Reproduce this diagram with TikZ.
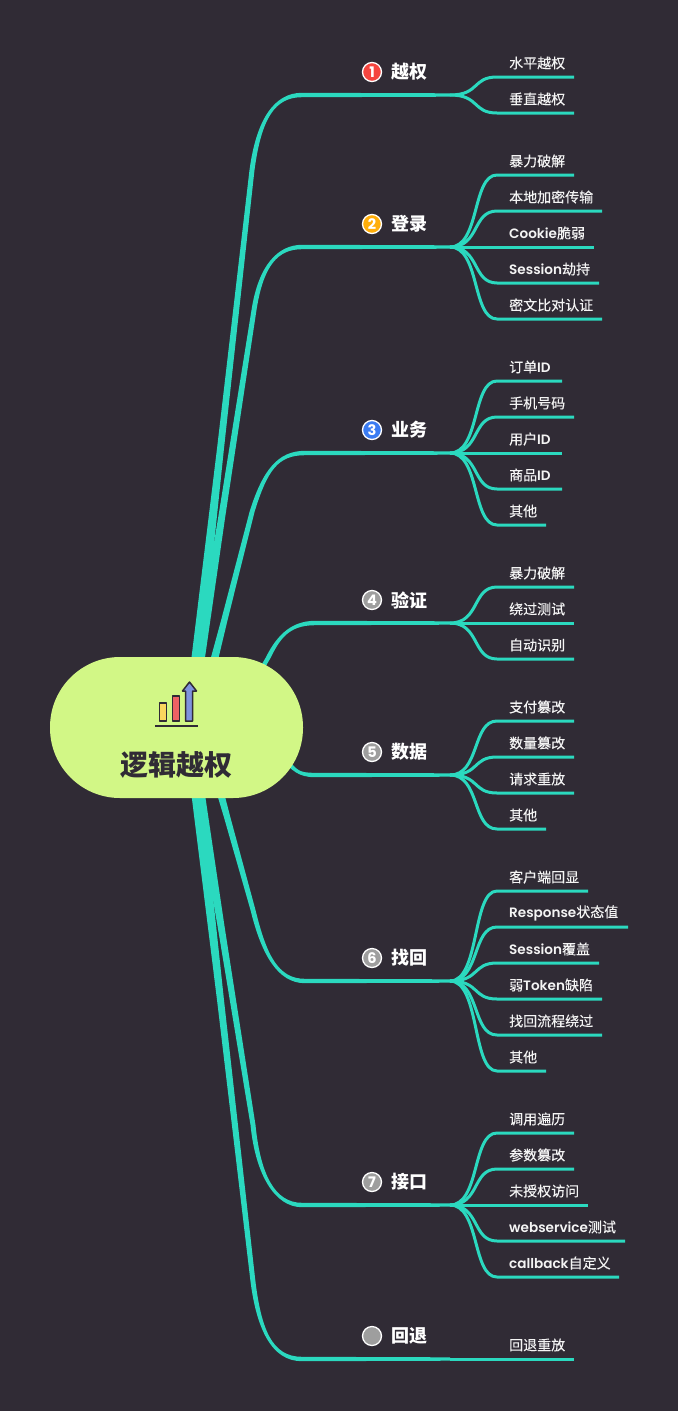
\documentclass[tikz,border=0pt]{standalone}
\usepackage{fontspec}
\usetikzlibrary{calc}
\setmainfont{Noto Sans CJK SC}
\newfontfamily\leaffont[FakeBold=0.25]{Noto Sans CJK SC}
\newfontfamily\lat{Poppins}[Scale=0.97,UprightFont=* SemiBold,BoldFont=* Bold]
\definecolor{bgc}{HTML}{302B35}
\definecolor{tealc}{HTML}{2BD9BF}
\definecolor{rootc}{HTML}{D2F786}
\definecolor{leaftxt}{HTML}{F4F4F4}
\definecolor{bred}{HTML}{F5453F}
\definecolor{borange}{HTML}{FFAE0A}
\definecolor{bblue}{HTML}{3B7CF2}
\definecolor{bgray}{HTML}{9E9E9E}
\definecolor{iconY}{HTML}{FBD65E}
\definecolor{iconR}{HTML}{EE6364}
\definecolor{iconB}{HTML}{7E93DD}
\tikzset{
  leafline/.style={draw=tealc,line width=3pt},
  leaftext/.style={anchor=west,inner sep=0pt,text=leaftxt,font=\fontsize{14}{14}\selectfont\leaffont},
  topictext/.style={anchor=west,inner sep=0pt,text=white,font=\fontsize{18}{18}\selectfont\bfseries},
  badge/.style={circle,draw=white,line width=1.3pt,minimum size=19pt,inner sep=0pt,text=white,font=\fontsize{15}{15}\selectfont\lat\bfseries},
  iconbar/.style={draw=bgc,line width=1.5pt,line join=round},
}
% #1 hub #2 root offset #3 P #4 c1 #5 c2 #6 bend #7 sign #8 w0 #9 w1
\newcommand\trunk[9]{%
  \pgfmathsetmacro\wm{#9+(#8-#9)*0.28}%
  \fill[tealc] ($(root)+(#2)+(-#8/2,0)$)
    -- ($($(root)+(#2)$)!.5!#3+(-\wm/2,0)$) -- ($#3+(-#9/2,0)$)
    .. controls ($#4+(-#9/2,0)$) and ($#5+(0,-2.2*#7)$) .. ($#6+(0,-2.2*#7)$)
    -- ($(#1)+(0,-1.7*#7)$) -- ($(#1)+(0,1.7*#7)$) -- ($#6+(0,2.2*#7)$)
    .. controls ($#5+(0,2.2*#7)$) and ($#4+(#9/2,0)$) .. ($#3+(#9/2,0)$)
    -- ($($(root)+(#2)$)!.5!#3+(\wm/2,0)$)
    -- ($(root)+(#2)+(#8/2,0)$) -- cycle;}
% #1 hub #2 leaf name #3 y #4 end x #5 text
\newcommand\leafup[5]{%
  \coordinate (#2end) at (#4,#3);
  \node[leaftext] (#2) at (509,#3-14) {#5};
  \draw[leafline] (#1) .. controls (480,\hubY) and (472,#3) .. (497,#3) -- (#2end);}
\newcommand\topic[5]{% #1 name #2 y #3 colour #4 num #5 text
  \coordinate (#1hub) at (450,#2);
  \node[badge,fill=#3] (#1b) at (372,#2-23) {#4};
  \node[topictext] (#1t) at (391,#2-23) {#5};}
\begin{document}
\begin{tikzpicture}[x=1pt,y=-1pt]
\useasboundingbox (0,0) rectangle (678,1411);
\fill[bgc] (0,0) rectangle (678,1411);
\coordinate (root) at (189,727);
\topic{a}{95}{bred}{1}{越权}
\topic{b}{247}{borange}{2}{登录}
\topic{c}{453}{bblue}{3}{业务}
\topic{d}{623}{bgray}{4}{验证}
\topic{e}{775}{bgray}{5}{数据}
\topic{f}{981}{bgray}{6}{找回}
\topic{g}{1205}{bgray}{7}{接口}
\topic{h}{1359}{bgray}{}{回退}
% trunks
\trunk{ahub}{0,0}{(252,170)}{(259,118)}{(275,95)}{(302,95)}{1}{12}{5}
\trunk{bhub}{0,0}{(254,310)}{(261,265)}{(278,247)}{(302,247)}{1}{12}{5}
\trunk{chub}{8,0}{(252,512)}{(265,470)}{(278,453)}{(305,453)}{1}{10}{5}
\trunk{dhub}{46,-12}{(268,658)}{(277,640)}{(288,623)}{(315,623)}{1}{6}{5}
\trunk{ehub}{60,0}{(285,760)}{(295,770)}{(298,775)}{(315,775)}{-1}{8}{6}
\trunk{fhub}{13,0}{(253,910)}{(264,955)}{(278,981)}{(305,981)}{-1}{10}{5}
\trunk{ghub}{0,0}{(253,1125)}{(258,1175)}{(275,1205)}{(302,1205)}{-1}{12}{5}
\trunk{hhub}{0,0}{(252,1273)}{(258,1330)}{(272,1359)}{(302,1359)}{-1}{12}{5}
% leaves
\def\hubY{95}
\leafup{ahub}{a1}{77}{574}{水平越权}
\leafup{ahub}{a2}{113}{574}{垂直越权}
\def\hubY{247}
\leafup{bhub}{b1}{175}{574}{暴力破解}
\leafup{bhub}{b2}{211}{602}{本地加密传输}
\leafup{bhub}{b3}{247}{594}{{\lat Cookie}脆弱}
\leafup{bhub}{b4}{283}{599}{{\lat Session}劫持}
\leafup{bhub}{b5}{319}{602}{密文比对认证}
\def\hubY{453}
\leafup{chub}{c1}{381}{562}{订单{\lat ID}}
\leafup{chub}{c2}{417}{574}{手机号码}
\leafup{chub}{c3}{453}{562}{用户{\lat ID}}
\leafup{chub}{c4}{489}{562}{商品{\lat ID}}
\leafup{chub}{c5}{525}{546}{其他}
\def\hubY{623}
\leafup{dhub}{d1}{587}{574}{暴力破解}
\leafup{dhub}{d2}{623}{574}{绕过测试}
\leafup{dhub}{d3}{659}{574}{自动识别}
\def\hubY{775}
\leafup{ehub}{e1}{721}{574}{支付篡改}
\leafup{ehub}{e2}{757}{574}{数量篡改}
\leafup{ehub}{e3}{793}{574}{请求重放}
\leafup{ehub}{e4}{829}{546}{其他}
\def\hubY{981}
\leafup{fhub}{f1}{891}{588}{客户端回显}
\leafup{fhub}{f2}{927}{628}{{\lat Response}状态值}
\leafup{fhub}{f3}{963}{599}{{\lat Session}覆盖}
\leafup{fhub}{f4}{999}{602}{弱{\lat Token}缺陷}
\leafup{fhub}{f5}{1035}{602}{找回流程绕过}
\leafup{fhub}{f6}{1071}{546}{其他}
\def\hubY{1205}
\leafup{ghub}{g1}{1133}{574}{调用遍历}
\leafup{ghub}{g2}{1169}{574}{参数篡改}
\leafup{ghub}{g3}{1205}{588}{未授权访问}
\leafup{ghub}{g4}{1241}{625}{{\lat webservice}测试}
\leafup{ghub}{g5}{1277}{619}{{\lat callback}自定义}
\coordinate (h1end) at (574,1359);
\node[leaftext] (h1) at (509,1345) {回退重放};
\draw[leafline] (hhub) -- (h1end);
% central topic
\node[draw=none,fill=rootc,rounded corners=70pt,minimum width=253pt,minimum height=141pt,inner sep=0pt] (centre) at (176.5,727.5) {};
\node[inner sep=0pt,text=bgc,font=\fontsize{28}{28}\selectfont\bfseries] (title) at (176,765) {逻辑越权};
% icon
\draw[iconbar,fill=iconY] (159.5,703) rectangle (166.5,721);
\draw[iconbar,fill=iconR] (172.5,696) rectangle (179.5,721);
\draw[iconbar,fill=iconB] (185.5,721) -- (185.5,691) -- (182.5,691) -- (189.5,682) -- (196.5,691) -- (192.5,691) -- (192.5,721) -- cycle;
\draw[bgc,line width=1.4pt] (155,726) -- (198,726);
\end{tikzpicture}
\end{document}
